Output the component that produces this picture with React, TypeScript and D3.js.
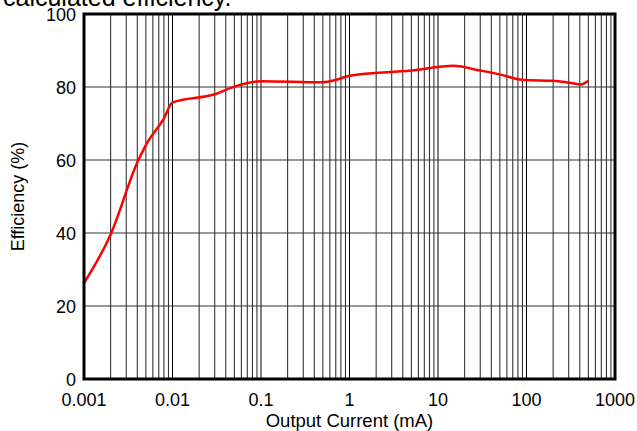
import React from "react";
import * as d3 from "d3";

const title = "calculated efficiency.";
const xLabel = "Output Current (mA)";
const yLabel = "Efficiency (%)";
const xTickValues = [0.001, 0.01, 0.1, 1, 10, 100, 1000];
const xTickLabels = ["0.001", "0.01", "0.1", "1", "10", "100", "1000"];
const yTickValues = [0, 20, 40, 60, 80, 100];
const currentMA = [0.001, 0.002, 0.004, 0.005, 0.008, 0.01, 0.03, 0.05, 0.1, 0.5, 0.7, 1, 5, 15, 30, 47, 95, 200, 270, 410, 500];
const efficiency = [26.3, 39.6, 59.3, 64.1, 71.4, 75.8, 78, 80.1, 81.6, 81.3, 81.9, 83.1, 84.5, 85.8, 84.5, 83.6, 81.9, 81.7, 81.4, 80.7, 81.7];

const W = 637, H = 431;
const L = 84, R = 615, T = 14, B = 379;

export default function App() {
  const x = d3.scaleLog().domain([0.001, 1000]).range([L, R]);
  const y = d3.scaleLinear().domain([0, 100]).range([B, T]);
  const minor: number[] = [];
  for (let d = -3; d < 3; d++) {
    for (let m = 2; m <= 9; m++) minor.push(m * Math.pow(10, d));
  }
  const pts = currentMA.map((c, i) => [c, efficiency[i]] as [number, number]);
  const line = d3.line<[number, number]>().x(d => x(d[0])).y(d => y(d[1])).curve(d3.curveMonotoneX);
  const font = "Liberation Sans, Arial, sans-serif";
  return (
    <svg width={W} height={H} style={{ position: "absolute", left: 0, top: 0, background: "#fff" }} fontFamily={font}>
      <text x={3} y={6} fontSize={25}>{title}</text>
      {minor.map((v, i) => (
        <line key={"m" + i} x1={x(v)} x2={x(v)} y1={T} y2={B} stroke="#222" strokeWidth={1} />
      ))}
      {xTickValues.map((v, i) => (
        <line key={"d" + i} x1={x(v)} x2={x(v)} y1={T} y2={B} stroke="#000" strokeWidth={1} />
      ))}
      {yTickValues.map((v, i) => (
        <line key={"h" + i} x1={L} x2={R} y1={y(v)} y2={y(v)} stroke="#333" strokeWidth={1.2} />
      ))}
      <path d={line(pts) || ""} fill="none" stroke="#ff0000" strokeWidth={2.5} strokeLinejoin="round" />
      <rect x={L} y={T} width={R - L} height={B - T} fill="none" stroke="#000" strokeWidth={3} />
      {yTickValues.map((v, i) => (
        <text key={"yt" + i} x={76} y={y(v) + 6.5} fontSize={18} textAnchor="end">{v}</text>
      ))}
      {xTickValues.map((v, i) => (
        <text key={"xt" + i} x={x(v)} y={405.5} fontSize={18} textAnchor="middle">{xTickLabels[i]}</text>
      ))}
      <text x={(L + R) / 2} y={427} fontSize={18.5} textAnchor="middle">{xLabel}</text>
      <text transform={`translate(23.5,${(T + B) / 2}) rotate(-90)`} fontSize={18} textAnchor="middle">{yLabel}</text>
    </svg>
  );
}
